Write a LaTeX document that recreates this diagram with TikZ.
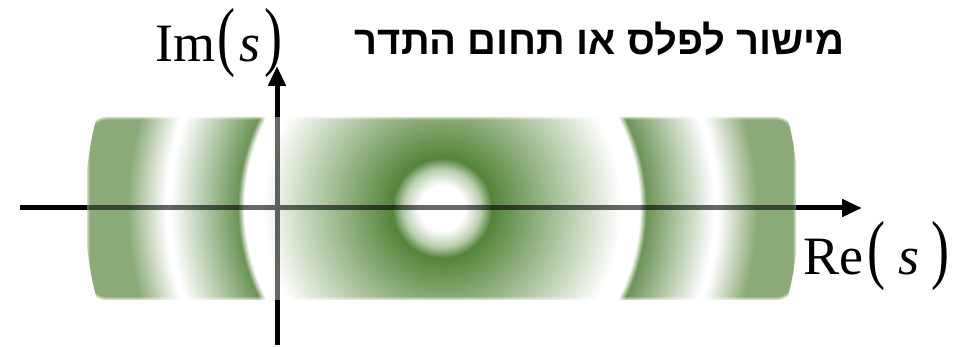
\documentclass[tikz,border=0pt]{standalone}
\usepackage{fontspec}
\usepackage{graphicx}
\setmainfont{Liberation Serif}
\newfontfamily\hebfont[Script=Hebrew]{Liberation Sans}
\TeXXeTstate=1
\usetikzlibrary{arrows.meta}
\definecolor{gA}{RGB}{85,132,58}
\definecolor{gB}{RGB}{108,148,88}
\definecolor{gC}{RGB}{140,170,120}
\pgfdeclareradialshading{rings}{\pgfpoint{0bp}{0bp}}{%
  color(0bp)=(white);
  color(1.6bp)=(white);
  color(2.7bp)=(gA!40!white);
  color(3.5bp)=(gA);
  color(12.6bp)=(white);
  color(13.85bp)=(white);
  color(14.3bp)=(gB);
  color(19.05bp)=(white);
  color(19.35bp)=(white);
  color(22.05bp)=(gC);
  color(25bp)=(gC);
  color(50bp)=(gC)}
\tikzset{
  axisline/.style={line width=5pt, black},
  axisarrow/.style={axisline, -{Triangle[length=20pt,width=17pt]}},
  axislabel/.style={font=\fontsize{54}{54}\selectfont, inner sep=0pt, anchor=base west},
  titlelabel/.style={font=\hebfont\bfseries\fontsize{40}{40}\selectfont, inner sep=0pt, anchor=base east},
}
\newcommand{\bigparen}[1]{\scalebox{1}[1.42]{#1}}
\begin{document}
\begin{tikzpicture}[x=1pt,y=-1pt]
\useasboundingbox (0,0) rectangle (967,347);
% plane region
\begin{scope}
  \clip[rounded corners=20pt] (87,117) rectangle (796,300);
  \shade[shading=rings] (442,208) circle (357);
\end{scope}
\draw[white, line width=5pt, opacity=.3, rounded corners=20pt] (87,117) rectangle (796,300);
\draw[white, line width=2.5pt, opacity=.4, rounded corners=20pt] (87,117) rectangle (796,300);
% axes
\coordinate (xstart) at (20,208);
\coordinate (xl) at (87,208);
\coordinate (xr) at (796,208);
\coordinate (xend) at (862,208);
\coordinate (ystart) at (277,345);
\coordinate (yb) at (277,300);
\coordinate (yt) at (277,117);
\coordinate (yend) at (277,66);
\draw[axisline, opacity=.6] (xl) -- (xr) (yb) -- (yt);
\draw[axisline] (xstart) -- (xl);
\draw[axisline] (ystart) -- (yb);
\draw[axisarrow] (xr) -- (xend);
\draw[axisarrow] (yt) -- (yend);
% labels
\node[axislabel] (re) at (803,275) {Re\kern4pt\bigparen{(}\kern13pt\textit{s}\kern12pt\bigparen{)}};
\node[axislabel] (im) at (155,62) {Im\kern2pt\bigparen{(}\kern4pt\textit{s}\kern4pt\bigparen{)}};
\node[titlelabel] (title) at (845,55) {\beginR מישור לפלס או תחום התדר\endR};
\end{tikzpicture}
\end{document}
